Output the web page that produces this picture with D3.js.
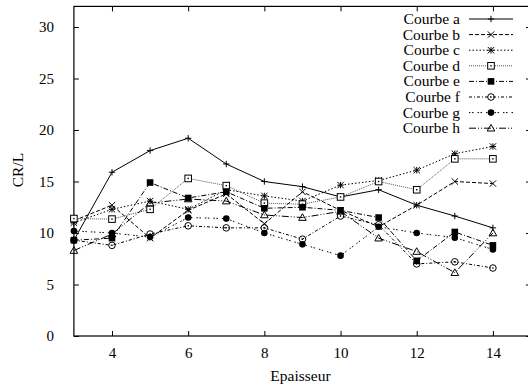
<!DOCTYPE html>
<html><head><meta charset="utf-8">
<script src="https://cdn.jsdelivr.net/npm/d3@7"></script>
<style>body{margin:0;background:#fff}svg{display:block}</style>
</head><body>
<script>
const epaisseur = [3,4,5,6,7,8,9,10,11,12,13,14];
const courbeA = [9.3,15.9,18.0,19.2,16.7,15.0,14.5,13.5,14.2,12.7,11.65,10.5];
const courbeB = [11.2,12.7,9.5,12.2,13.8,10.9,14.0,12.2,10.6,12.7,15.0,14.8];
const courbeC = [11.0,12.3,13.1,12.3,14.2,13.6,13.1,14.65,15.1,16.1,17.7,18.4];
const courbeD = [11.4,11.35,12.3,15.3,14.6,12.9,12.8,13.5,15.0,14.2,17.2,17.2];
const courbeE = [9.3,9.5,14.9,13.4,14.0,12.4,12.5,12.2,11.5,7.3,10.1,8.8];
const courbeF = [9.3,8.8,9.9,10.7,10.5,10.5,9.4,11.65,10.8,7.0,7.2,6.6];
const courbeG = [10.2,10.0,9.6,11.5,11.4,10.0,8.9,7.8,10.6,10.0,9.55,8.4];
const courbeH = [8.3,9.9,12.9,13.3,13.1,11.75,11.5,12.1,9.5,8.2,6.15,10.0];
const names = ["Courbe a","Courbe b","Courbe c","Courbe d","Courbe e","Courbe f","Courbe g","Courbe h"];
const xTicks = [4,6,8,10,12,14];
const yTicks = [0,5,10,15,20,25,30];

const series = [courbeA,courbeB,courbeC,courbeD,courbeE,courbeF,courbeG,courbeH];
const dashes = [null,"4,2","1.5,2","1,1","5,2,1,2","3,2,1,2","1.5,1.5,1.5,4","7,2,1,2,1,2"];
const strokes = ["#000","#000","#000","#555","#000","#000","#000","#000"];
const markers = ["plus","x","star","sq","fsq","ring","dot","tri"];
const FONT = "'Liberation Serif'";

const W=528,H=389;
const svg=d3.select("body").append("svg").attr("width",W).attr("height",H);
const x=d3.scaleLinear().domain([3,15]).range([73.9,531]);
const y=d3.scaleLinear().domain([0,32]).range([336,6.4]);

svg.append("rect").attr("x",x(3)).attr("y",y(32)).attr("width",x(15)-x(3)).attr("height",y(0)-y(32))
  .attr("fill","none").attr("stroke","#000").attr("stroke-width",1.2);

const ax=svg.append("g").attr("transform",`translate(0,${y(0)})`)
  .call(d3.axisBottom(x).tickValues(xTicks).tickSize(-5).tickPadding(11));
const ay=svg.append("g").attr("transform",`translate(${x(3)},0)`)
  .call(d3.axisLeft(y).tickValues(yTicks).tickSize(-5).tickPadding(20));
const at=svg.append("g").attr("transform",`translate(0,${y(32)})`)
  .call(d3.axisTop(x).tickValues(xTicks).tickSize(-5).tickFormat(""));
const ar=svg.append("g").attr("transform",`translate(${x(15)},0)`)
  .call(d3.axisRight(y).tickValues(yTicks).tickSize(-5).tickFormat(""));
[ax,ay,at,ar].forEach(g=>{g.select(".domain").remove();g.selectAll("line").attr("stroke","#000");
  g.attr("font-family",FONT).attr("font-size",15);
  g.selectAll("text").style("font-family",FONT).style("font-size","15px").attr("fill","#000");});

svg.append("text").attr("x",(x(3)+x(15))/2-2).attr("y",381).attr("text-anchor","middle")
  .style("font-family",FONT).style("font-size","15.5px").text("Epaisseur");
svg.append("text").attr("transform","translate(23,170) rotate(-90)").attr("text-anchor","middle")
  .style("font-family",FONT).style("font-size","15.5px").text("CR/L");

function marker(g,type,cx,cy){
  const s=3.2;
  if(type==="plus"){g.append("path").attr("d",`M${cx-s},${cy}H${cx+s}M${cx},${cy-s}V${cy+s}`).attr("stroke","#000");}
  else if(type==="x"){g.append("path").attr("d",`M${cx-s},${cy-s}L${cx+s},${cy+s}M${cx-s},${cy+s}L${cx+s},${cy-s}`).attr("stroke","#000");}
  else if(type==="star"){g.append("path").attr("d",`M${cx-s},${cy}H${cx+s}M${cx},${cy-s}V${cy+s}M${cx-s},${cy-s}L${cx+s},${cy+s}M${cx-s},${cy+s}L${cx+s},${cy-s}`).attr("stroke","#000");}
  else if(type==="sq"){g.append("rect").attr("x",cx-3.3).attr("y",cy-3.3).attr("width",6.6).attr("height",6.6).attr("fill","#fff").attr("stroke","#000");
    g.append("rect").attr("x",cx-0.7).attr("y",cy-0.7).attr("width",1.4).attr("height",1.4).attr("fill","#000");}
  else if(type==="fsq"){g.append("rect").attr("x",cx-3.3).attr("y",cy-3.3).attr("width",6.6).attr("height",6.6).attr("fill","#000");}
  else if(type==="ring"){g.append("circle").attr("cx",cx).attr("cy",cy).attr("r",3.3).attr("fill","none").attr("stroke","#000");
    g.append("circle").attr("cx",cx).attr("cy",cy).attr("r",0.8).attr("fill","#000");}
  else if(type==="dot"){g.append("circle").attr("cx",cx).attr("cy",cy).attr("r",3.3).attr("fill","#000");}
  else if(type==="tri"){g.append("path").attr("d",`M${cx},${cy-3.8}L${cx+3.8},${cy+2.8}L${cx-3.8},${cy+2.8}Z`).attr("fill","none").attr("stroke","#000");}
}

const line=d3.line().x((d,i)=>x(epaisseur[i])).y(d=>y(d));
series.forEach((vals,k)=>{
  const g=svg.append("g");
  g.append("path").attr("d",line(vals)).attr("fill","none").attr("stroke",strokes[k]).attr("stroke-width",1)
    .attr("stroke-dasharray",dashes[k]);
  vals.forEach((v,i)=>marker(g,markers[k],x(epaisseur[i]),y(v)));
});

const lg=svg.append("g");
names.forEach((n,k)=>{
  const cy=19+k*15.6;
  lg.append("text").attr("x",460).attr("y",cy+5).attr("text-anchor","end")
    .style("font-family",FONT).style("font-size","15.5px").text(n);
  lg.append("line").attr("x1",469).attr("x2",513).attr("y1",cy).attr("y2",cy)
    .attr("stroke",strokes[k]).attr("stroke-dasharray",dashes[k]);
  marker(lg,markers[k],491,cy);
});
</script>
</body></html>
